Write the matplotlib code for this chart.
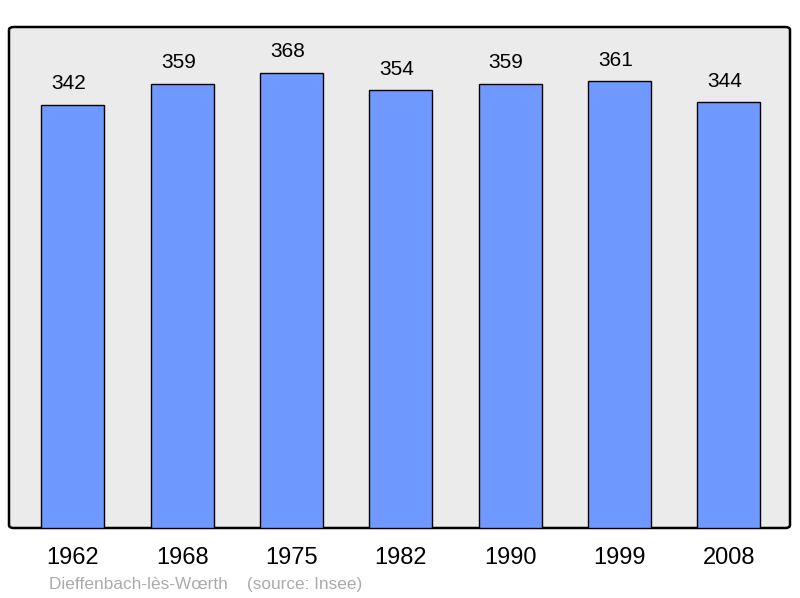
import matplotlib
matplotlib.use("Agg")
import matplotlib.pyplot as plt
from matplotlib.patches import FancyBboxPatch
from matplotlib.transforms import offset_copy

# ── Data ──────────────────────────────────────────────────────────────────────
years = ["1962", "1968", "1975", "1982", "1990", "1999", "2008"]
population = [342, 359, 368, 354, 359, 361, 344]

BAR_COLOUR = "#7099ff"
BG_COLOUR = "#ebebeb"

plt.rcParams["font.family"] = ["Liberation Sans", "DejaVu Sans"]

fig = plt.figure(figsize=(8.0, 5.98), dpi=100)

# axes placed in pixel terms: left 9, right 790, top 27, bottom 528
W, H = 800, 598
ax = fig.add_axes([9 / W, (H - 528) / H, 781 / W, 501 / H])
ax.set_facecolor("none")
for s in ax.spines.values():
    s.set_visible(False)

# rounded plot frame behind the bars
frame = FancyBboxPatch(
    (0, 0), 1, 1,
    boxstyle="round,pad=0,rounding_size=0.006",
    transform=ax.transAxes, facecolor=BG_COLOUR,
    edgecolor="black", linewidth=1.8, zorder=0, clip_on=False,
)
ax.add_patch(frame)

x = range(len(years))
ax.bar(x, population, width=0.576, color=BAR_COLOUR,
       edgecolor="black", linewidth=1.0, zorder=2)

# value labels sit a little left of the bar centre, as in the original
lbl_tr = offset_copy(ax.transData, fig=fig, x=-4, y=0, units="dots")
for i, v in zip(x, population):
    ax.text(i, v + 17, str(v), ha="center", va="center", fontsize=15,
            transform=lbl_tr)

ax.set_xlim(-0.585, 6.56)
ax.set_ylim(0, 405)
ax.set_yticks([])
ax.set_xticks(list(x))
ax.set_xticklabels(years, fontsize=17)
ax.tick_params(axis="x", length=0, pad=14)

fig.text(49 / W, 1 - 584 / H, "Dieffenbach-lès-Wœrth    (source: Insee)",
         color="#ababab", fontsize=12.4, ha="left", va="center")

fig.savefig("out.png", dpi=100)
